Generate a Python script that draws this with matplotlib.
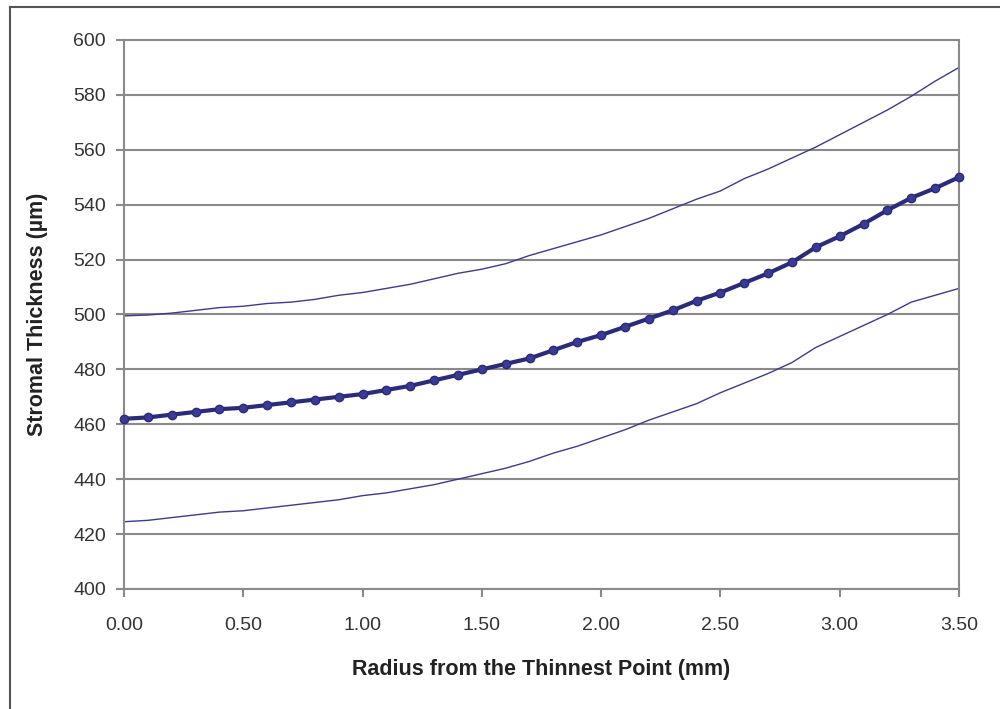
import matplotlib
matplotlib.use("Agg")
import matplotlib.pyplot as plt
from matplotlib.lines import Line2D

plt.rcParams["font.family"] = ["Liberation Sans", "DejaVu Sans"]

# Radius (mm) from the thinnest point
raio = [round(i * 0.1, 1) for i in range(36)]

# Mean stromal thickness (um)
media = [462, 462.5, 463.5, 464.5, 465.5, 466, 467, 468, 469, 470,
         471, 472.5, 474, 476, 478, 480, 482, 484, 487, 490,
         492.5, 495.5, 498.5, 501.5, 505, 508, 511.5, 515, 519, 524.5,
         528.5, 533, 538, 542.5, 546, 550]

# Upper limit
superior = [499.5, 499.8, 500.5, 501.5, 502.5, 503, 504, 504.5, 505.5, 507,
            508, 509.5, 511, 513, 515, 516.5, 518.5, 521.5, 524, 526.5,
            529, 532, 535, 538.5, 542, 545, 549.5, 553, 557, 561,
            565.5, 570, 574.5, 579.5, 585, 590]

# Lower limit
inferior = [424.5, 425, 426, 427, 428, 428.5, 429.5, 430.5, 431.5, 432.5,
            434, 435, 436.5, 438, 440, 442, 444, 446.5, 449.5, 452,
            455, 458, 461.5, 464.5, 467.5, 471.5, 475, 478.5, 482.5, 488,
            492, 496, 500, 504.5, 507, 509.5]

xticks = [0, 0.5, 1.0, 1.5, 2.0, 2.5, 3.0, 3.5]
yticks = list(range(400, 601, 20))

fig = plt.figure(figsize=(10, 7.09), dpi=100)
ax = fig.add_axes([0.124, 0.1693, 0.835, 0.7743])

# moldura (so lado esquerdo e topo aparecem)
fig.lines.append(Line2D([0.010, 0.010], [0.0, 0.990], transform=fig.transFigure,
                        color="#555555", linewidth=1.5))
fig.lines.append(Line2D([0.010, 1.0], [0.990, 0.990], transform=fig.transFigure,
                        color="#555555", linewidth=1.5))

ax.plot(raio, superior, color="#3c3c88", linewidth=1.0)
ax.plot(raio, inferior, color="#3c3c88", linewidth=1.0)
ax.plot(raio, media, color="#2b2b7a", linewidth=3, marker="o", clip_on=False,
        markersize=6, markerfacecolor="#3a3a98", markeredgecolor="#2b2b7a", zorder=5)

ax.set_xlim(0, 3.5)
ax.set_ylim(400, 600)
ax.set_xticks(xticks)
ax.set_xticklabels([f"{v:.2f}" for v in xticks])
ax.set_yticks(yticks)
ax.grid(axis="y", color="#8a8a8a", linewidth=1.5)
ax.set_axisbelow(True)

for lado in ["left", "bottom", "right", "top"]:
    ax.spines[lado].set_color("#8a8a8a")
    ax.spines[lado].set_linewidth(1.5)

ax.tick_params(axis="both", labelsize=14, colors="#8a8a8a", labelcolor="#333333",
               length=6, width=1.5)
ax.tick_params(axis="y", pad=7)
ax.tick_params(axis="x", pad=14)

ax.set_xlabel("Radius from the Thinnest Point (mm)", fontsize=15.5, fontweight="bold",
              color="#222222", labelpad=18)
ax.set_ylabel("Stromal Thickness (\u00b5m)", fontsize=15.5, fontweight="bold",
              color="#222222", labelpad=18)

fig.savefig("out.png", dpi=100)
